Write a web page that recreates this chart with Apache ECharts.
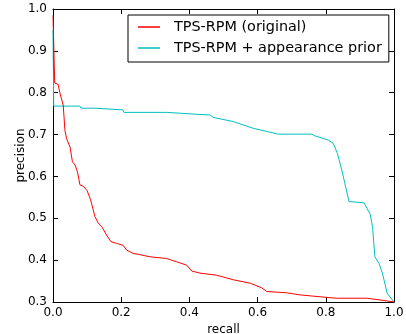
<!DOCTYPE html>
<html><head><meta charset="utf-8">
<script src="https://cdn.jsdelivr.net/npm/echarts@6/dist/echarts.min.js"></script>
<style>html,body{margin:0;padding:0;background:#fff}#c{width:406px;height:334px}</style>
</head><body><div id="c"></div>
<script>
const seriesNames = ['TPS-RPM (original)', 'TPS-RPM + appearance prior'];
const xTicks = [0.0, 0.2, 0.4, 0.6, 0.8, 1.0];
const yTicks = [0.3, 0.4, 0.5, 0.6, 0.7, 0.8, 0.9, 1.0];
const originalPR = [[0.0,0.985],[0.005,0.823],[0.015,0.82],[0.02,0.80],[0.03,0.77],[0.035,0.71],[0.04,0.69],[0.05,0.67],[0.057,0.635],[0.065,0.627],[0.072,0.61],[0.077,0.607],[0.079,0.58],[0.09,0.576],[0.1,0.566],[0.11,0.545],[0.118,0.52],[0.123,0.504],[0.133,0.488],[0.143,0.48],[0.157,0.46],[0.17,0.444],[0.187,0.44],[0.206,0.435],[0.216,0.424],[0.235,0.416],[0.25,0.414],[0.284,0.408],[0.333,0.404],[0.363,0.396],[0.392,0.388],[0.407,0.374],[0.431,0.369],[0.48,0.364],[0.529,0.353],[0.578,0.345],[0.612,0.334],[0.627,0.325],[0.685,0.322],[0.724,0.317],[0.803,0.311],[0.832,0.309],[0.92,0.309],[0.959,0.305],[1.0,0.30]];
const appearancePR = [[0.0,0.95],[0.002,0.768],[0.079,0.768],[0.082,0.763],[0.123,0.763],[0.126,0.759],[0.205,0.759],[0.208,0.753],[0.333,0.753],[0.336,0.749],[0.431,0.748],[0.46,0.747],[0.47,0.741],[0.529,0.731],[0.587,0.715],[0.661,0.701],[0.759,0.701],[0.768,0.697],[0.807,0.687],[0.822,0.679],[0.834,0.655],[0.847,0.615],[0.856,0.583],[0.868,0.540],[0.912,0.537],[0.93,0.510],[0.937,0.48],[0.944,0.408],[0.956,0.392],[0.966,0.369],[0.98,0.321],[1.0,0.30]];

const FONT = 'DejaVu Sans';
const chart = echarts.init(document.getElementById('c'), null, {renderer: 'canvas'});
const fmt = v => Number(v).toFixed(1);
const axisBase = {
  axisLine: {show: true, onZero: false, lineStyle: {color: '#000', width: 1}},
  axisTick: {show: true, inside: true, length: 5, lineStyle: {color: '#000'}},
  splitLine: {show: false}
};
chart.setOption({
  animation: false,
  backgroundColor: '#fff',
  grid: {left: 53, top: 9, right: 12, bottom: 32, containLabel: false, outerBoundsMode: 'none'},
  legend: {
    orient: 'vertical', left: 128, top: 15,
    data: seriesNames.map(n => ({name: n, icon: 'rect'})),
    itemWidth: 22, itemHeight: 1.5, itemGap: 5,
    padding: [4, 7, 6, 10],
    backgroundColor: '#fff', borderColor: '#000', borderWidth: 1, borderRadius: 0,
    textStyle: {fontFamily: FONT, fontSize: 14.4, lineHeight: 16, color: '#000', padding: [0, 0, 0, 9]}
  },
  xAxis: [
    Object.assign({}, axisBase, {
      type: 'value', min: 0, max: 1, interval: 0.2, position: 'bottom',
      name: 'recall', nameLocation: 'middle', nameGap: 22, nameMoveOverlap: false,
      nameTextStyle: {fontFamily: FONT, fontSize: 12, color: '#000'},
      axisLabel: {fontFamily: FONT, fontSize: 12, color: '#000', margin: 5, formatter: fmt,
        customValues: xTicks}
    }),
    Object.assign({}, axisBase, {
      type: 'value', min: 0, max: 1, interval: 0.2, position: 'top',
      axisLabel: {show: false}
    })
  ],
  yAxis: [
    Object.assign({}, axisBase, {
      type: 'value', min: 0.3, max: 1.0, interval: 0.1, position: 'left',
      name: 'precision', nameLocation: 'middle', nameGap: 26, nameMoveOverlap: false,
      nameTextStyle: {fontFamily: FONT, fontSize: 12, color: '#000'},
      axisLabel: {fontFamily: FONT, fontSize: 12, color: '#000', margin: 6, formatter: fmt,
        customValues: yTicks}
    }),
    Object.assign({}, axisBase, {
      type: 'value', min: 0.3, max: 1.0, interval: 0.1, position: 'right',
      axisLabel: {show: false}
    })
  ],
  series: [
    {name: seriesNames[0], type: 'line', data: originalPR, xAxisIndex: 0, yAxisIndex: 0,
     symbol: 'none', showSymbol: false, lineStyle: {color: '#ff0000', width: 1}, itemStyle: {color: '#ff0000'}, z: 3},
    {name: seriesNames[1], type: 'line', data: appearancePR, xAxisIndex: 0, yAxisIndex: 0,
     symbol: 'none', showSymbol: false, lineStyle: {color: '#00bfbf', width: 1}, itemStyle: {color: '#00bfbf'}, z: 2}
  ]
});
</script></body></html>
